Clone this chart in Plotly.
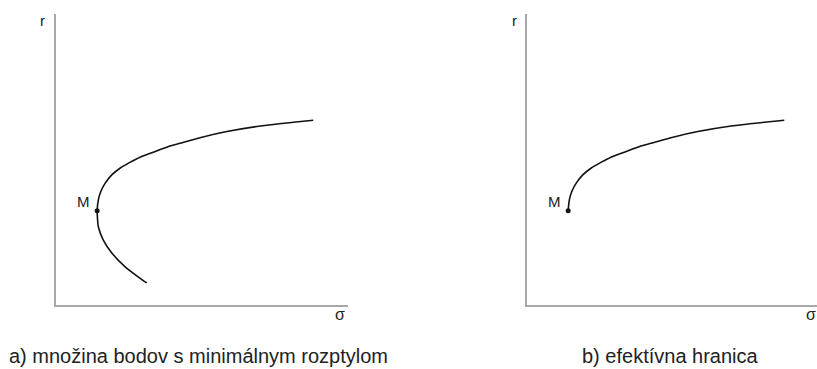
import plotly.graph_objects as go

# Minimum-variance set (left panel), ordered from the upper end down to the lower end
sigma_a = [8.81, 8.13, 6.99, 5.85, 4.93, 4.25, 3.90, 3.33, 2.88, 2.53, 2.19, 1.91, 1.68, 1.53, 1.45, 1.41,
           1.42, 1.45, 1.62, 1.91, 2.36, 2.81, 3.11]
r_a = [6.35, 6.28, 6.15, 5.96, 5.75, 5.56, 5.46, 5.25, 5.08, 4.90, 4.70, 4.47, 4.18, 3.89, 3.61, 3.24,
       2.99, 2.69, 2.23, 1.79, 1.32, 0.97, 0.76]

# Efficient frontier (right panel), from M upward
sigma_b = [1.41, 1.45, 1.53, 1.68, 1.91, 2.19, 2.53, 2.88, 3.33, 3.90, 4.25, 4.93, 5.85, 6.99, 8.13, 8.81]
r_b = [3.24, 3.61, 3.89, 4.18, 4.47, 4.70, 4.90, 5.08, 5.25, 5.46, 5.56, 5.75, 5.96, 6.15, 6.28, 6.35]

# Minimum-variance point M
m_sigma = [1.41]
m_r = [3.24]

captions = ["a) množina bodov s minimálnym rozptylom", "b) efektívna hranica"]
axis_labels = ["r", "σ"]
point_label = "M"

FONT = "Liberation Sans, Arial, sans-serif"
W, H = 817, 369


def px(x):
    return x / W


def py(y):
    return 1 - y / H


fig = go.Figure()

line_style = dict(color="#111", width=1.6, shape="spline", smoothing=0.8)
fig.add_trace(go.Scatter(x=sigma_a, y=r_a, mode="lines", line=line_style,
                         xaxis="x", yaxis="y", hoverinfo="skip"))
fig.add_trace(go.Scatter(x=m_sigma, y=m_r, mode="markers", marker=dict(color="#111", size=5),
                         xaxis="x", yaxis="y", hoverinfo="skip"))
fig.add_trace(go.Scatter(x=sigma_b, y=r_b, mode="lines", line=line_style,
                         xaxis="x2", yaxis="y2", hoverinfo="skip"))
fig.add_trace(go.Scatter(x=m_sigma, y=m_r, mode="markers", marker=dict(color="#111", size=5),
                         xaxis="x2", yaxis="y2", hoverinfo="skip"))

axis_common = dict(showgrid=False, zeroline=False, showticklabels=False, ticks="",
                   showline=True, linecolor="#a8a8a8", linewidth=2, fixedrange=True)

yd = [py(305), py(14)]
fig.update_layout(
    width=W, height=H,
    margin=dict(l=0, r=0, t=0, b=0),
    paper_bgcolor="white", plot_bgcolor="white",
    showlegend=False,
    hovermode=False,
    xaxis=dict(domain=[px(56), px(348)], range=[0, 292 / 29.2], anchor="y", **axis_common),
    yaxis=dict(domain=yd, range=[0, 10], anchor="x", **axis_common),
    xaxis2=dict(domain=[px(527), 1.0], range=[0, 290 / 29.2], anchor="y2", **axis_common),
    yaxis2=dict(domain=yd, range=[0, 10], anchor="x2", **axis_common),
    font=dict(family=FONT, color="#222"),
)

ann = []
# axis labels
for px_r, px_s in [(42, 340), (514, 811)]:
    ann.append(dict(text=axis_labels[0], x=px(px_r), y=py(21), xref="paper", yref="paper",
                    xanchor="center", yanchor="middle",
                    showarrow=False, font=dict(size=15, family=FONT, color="#222")))
    ann.append(dict(text=axis_labels[1], x=px(px_s), y=py(314), xref="paper", yref="paper",
                    xanchor="center", yanchor="middle",
                    showarrow=False, font=dict(size=16, family=FONT, color="#222")))
# M labels
for xr, yr in [("x", "y"), ("x2", "y2")]:
    ann.append(dict(text=point_label, x=m_sigma[0], y=m_r[0], xref=xr, yref=yr, showarrow=False,
                    xanchor="right", yanchor="middle", xshift=-5, yshift=9,
                    font=dict(size=15, family=FONT, color="#222")))
# captions
for cx, t in [(198, captions[0]), (670, captions[1])]:
    ann.append(dict(text=t, x=px(cx), y=py(356), xref="paper", yref="paper", showarrow=False,
                    xanchor="center", yanchor="middle", font=dict(size=20, family=FONT, color="#222")))

fig.update_layout(annotations=ann)
fig.write_html(
    "out.html",
    config={"displayModeBar": False, "staticPlot": True},
    post_script="document.body.style.margin='0';document.body.style.overflow='hidden';",
)
